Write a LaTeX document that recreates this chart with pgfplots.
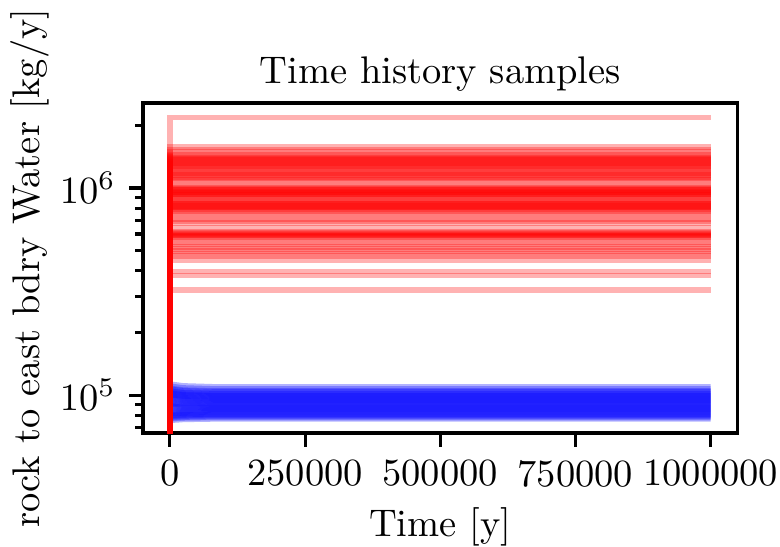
\documentclass[border=0pt]{standalone}
\usepackage{pgfplots}
\pgfplotsset{compat=1.18}
\newcommand{\blueline}[3]{\addplot[blue, opacity=0.3, line width=1.5pt] coordinates {(0,#1) (25000,#2) (80000,#3) (1000000,#3)};}
\begin{document}
\begin{tikzpicture}
\path[use as bounding box] (-37.1pt,-29.4pt) rectangle (165.5pt,112.5pt);
\begin{axis}[
  at={(0pt,0pt)}, anchor=south west,
  scale only axis, width=154.5pt, height=85.7pt,
  ymode=log,
  xmin=-50000, xmax=1050000, ymin=65500, ymax=2570000,
  xtick={0,250000,500000,750000,1000000},
  xticklabels={0,250000,500000,750000,1000000},
  scaled x ticks=false,
  ytick={100000,1000000},
  yticklabels={$10^5$,$10^6$},
  minor ytick={70000,80000,90000,200000,300000,400000,500000,600000,700000,800000,900000,2000000},
  tick align=outside, tick pos=left,
  major tick length=3.5pt, minor tick length=2pt,
  every tick/.style={black, line width=0.8pt},
  axis line style={line width=0.9pt},
  title={Time history samples},
  title style={at={(axis description cs:0.5,1)}, anchor=base, yshift=-0.8pt},
  xlabel={Time [y]},
  xlabel style={at={(axis description cs:0.5,-0.3139)}, anchor=base},
  ylabel={rock to east bdry Water [kg/y]},
  ylabel style={at={(axis description cs:-0.1735,0.5)}, rotate=0, anchor=base},
]
\blueline{112800}{110600}{109500}
\blueline{110200}{108100}{107000}
\blueline{107600}{105500}{104500}
\blueline{106500}{104400}{103400}
\blueline{105400}{103300}{102300}
\blueline{104200}{102200}{101200}
\blueline{103100}{101100}{100100}
\blueline{102000}{100000}{99000}
\blueline{100800}{98900}{97900}
\blueline{99700}{97800}{96800}
\blueline{98700}{96800}{95800}
\blueline{97600}{95700}{94800}
\blueline{96600}{94700}{93800}
\blueline{95600}{93700}{92800}
\blueline{92700}{92100}{91800}
\blueline{91700}{91100}{90800}
\blueline{90700}{90100}{89800}
\blueline{89700}{89100}{88800}
\blueline{88700}{88100}{87800}
\blueline{87400}{87100}{86900}
\blueline{86400}{86100}{86000}
\blueline{83800}{84700}{85100}
\blueline{82900}{83800}{84200}
\blueline{82000}{82900}{83300}
\blueline{81200}{82000}{82400}
\blueline{80300}{81100}{81500}
\blueline{79400}{80200}{80600}
\blueline{78500}{79300}{79700}
\blueline{77600}{78400}{78800}
\blueline{76800}{77600}{78000}
\blueline{75600}{76400}{76800}
\pgfplotsinvokeforeach{2190000,1580000,1530000,1500000,
  1440000,1425000,1410000,1395000,1380000,1365000,1350000,1335000,1320000,1305000,1290000,1275000,1260000,1245000,
  1220000,1205000,1190000,1175000,1160000,1145000,1130000,1115000,1100000,
  1070000,1035000,
  1005000,997000,990000,982000,975000,967000,960000,952000,945000,937000,930000,922000,915000,905000,
  885000,
  865000,857000,850000,842000,835000,827000,820000,812000,805000,797000,790000,782000,775000,
  750000,730000,
  705000,690000,675000,
  645000,
  615000,610000,605000,600000,595000,590000,585000,580000,575000,
  550000,535000,
  520000,508000,
  495000,482000,470000,
  450000,
  395000,378000,
  321000}{
  \addplot[red, opacity=0.3, line width=1.5pt] coordinates {(0,1000) (0,#1) (1000000,#1)};
}
\end{axis}
\end{tikzpicture}
\end{document}
